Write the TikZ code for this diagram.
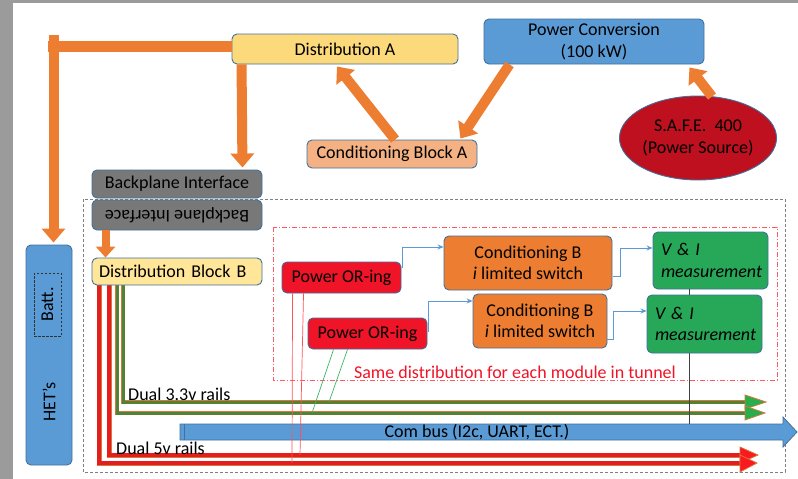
\documentclass[tikz,border=0pt]{standalone}
\usepackage{fontspec}
\setmainfont{Carlito}
\usetikzlibrary{arrows.meta,calc,shapes.geometric}
\definecolor{bgside}{RGB}{155,155,155}
\definecolor{bordc}{RGB}{65,113,156}
\definecolor{orangeA}{RGB}{237,125,49}
\definecolor{yellowA}{RGB}{252,217,123}
\definecolor{yellowB}{RGB}{255,230,153}
\definecolor{blueA}{RGB}{91,155,213}
\definecolor{salmonA}{RGB}{244,177,131}
\definecolor{safered}{RGB}{190,16,30}
\definecolor{grayBP}{RGB}{120,120,120}
\definecolor{orred}{RGB}{240,20,40}
\definecolor{vigreen}{RGB}{38,168,88}
\definecolor{railgreen}{RGB}{84,130,53}
\definecolor{railred}{RGB}{228,30,30}
\definecolor{railedge}{RGB}{214,120,60}
\definecolor{headgreen}{RGB}{40,175,75}
\definecolor{headred}{RGB}{250,25,30}
\definecolor{thinred}{RGB}{255,80,90}
\definecolor{thingreen}{RGB}{60,180,100}
\definecolor{dashred}{RGB}{255,90,100}
\begin{document}
\begin{tikzpicture}[x=1pt,y=-1pt,
  font=\fontsize{18}{21.5}\selectfont,
  box/.style={draw=bordc, line width=0.9pt, rounded corners=5pt, inner sep=0pt, align=center},
  oarrow/.style={draw=orangeA, line width=10pt, line cap=butt, -{Triangle[width=23pt,length=14pt]}},
  obar/.style={draw=orangeA, line width=11pt, line cap=butt},
  tconn/.style={draw=blueA, line width=0.8pt, -{Stealth[length=6pt,width=5pt]}},
  grail/.style={draw=railedge, line width=0.8pt, double=railgreen, double distance=3pt},
  rrail/.style={draw=railedge, line width=0.8pt, double=railred, double distance=3.4pt},
  ghead/.style={draw=railedge, line width=0.8pt, fill=headgreen, line join=miter},
  rhead/.style={draw=railedge, line width=0.8pt, fill=headred, line join=miter}]
\useasboundingbox (0,0) rectangle (798,479);
\fill[white] (0,0) rectangle (798,479);
\fill[bgside] (0,0) rectangle (13,479);
\fill[bgside] (0,0) rectangle (798,3);

% frames
\draw[gray, line width=0.7pt, dash pattern=on 3pt off 2pt] (83,199) rectangle (785,472);
\draw[dashred, line width=0.8pt, dash pattern=on 5pt off 2pt on 1pt off 2pt] (273,227) rectangle (777,380);

% upper nodes
\node[box, fill=yellowA, minimum width=226pt, minimum height=30pt] (distA) at (345,49) {Distribution A};
\node[box, fill=blueA, minimum width=220pt, minimum height=45pt] (pconv) at (594,41.5) {Power Conversion\\(100 kW)};
\node[box, fill=salmonA, minimum width=170pt, minimum height=28pt] (condA) at (392,154) {Conditioning Block A};
\node[ellipse, draw=bordc, line width=0.9pt, fill=safered, minimum width=146pt, minimum height=84pt, inner sep=0pt, align=center] (safe) at (698,138) {S.A.F.E.~~400\\(Power Source)};

\node[box, fill=grayBP, minimum width=170pt, minimum height=28pt] (bp1) at (177,184) {Backplane Interface};
\node[box, fill=grayBP, minimum width=170pt, minimum height=30pt] (bp2) at (177,215) {\rotatebox{180}{Backplane Interface}};

% HET's
\node[box, fill=blueA, minimum width=46pt, minimum height=220pt] (hets) at (49,355) {};
\node[rotate=90, inner sep=0pt] (hetstxt) at (49,402) {HET’s};
\node[draw=black!80, line width=0.7pt, dash pattern=on 2.5pt off 1.5pt, minimum width=27pt, minimum height=63pt, inner sep=0pt] (batt) at (47.5,304.5) {\rotatebox{90}{Batt.}};

% orange arrows
\coordinate (bendA) at (53.5,35);
\coordinate (hetsin) at ($(hets.north)+(4.5,-2)$);
\draw[obar] ($(distA.west)+(0,-3)$) -- (48,46);
\draw[oarrow] (bendA) -- (hetsin);
\draw[oarrow] ($(distA.south west)+(10,0)$) -- ($(bp1.north east)+(-20,-2)$);
\draw[oarrow] ($(pconv.south west)+(26,0)$) -- ($(condA.north east)+(-17,-1)$);
\draw[oarrow] ($(condA.north)+(3,0)$) -- ($(distA.south)+(-8,2)$);
\draw[oarrow] ($(safe.north)+(14,1)$) -- ($(pconv.south east)+(-15,3)$);

% rails (drawn before distB so it covers their start)
\coordinate (g1e) at (747,402);
\coordinate (g2e) at (747,413);
\coordinate (r1e) at (742,455);
\coordinate (r2e) at (742,463);
\draw[rrail] (99,283) |- (r2e);
\draw[rrail] (109,283) |- (r1e);
\draw[grail] (117,283) |- (g2e);
\draw[grail] (123,283) |- (g1e);
\draw[ghead] (745,395) -- (766,402) -- (745,409) -- cycle;
\draw[ghead] (745,406) -- (765,413) -- (745,420) -- cycle;
\draw[rhead] (740,447) -- (758,455) -- (740,463) -- cycle;
\draw[rhead] (740,455) -- (757,463) -- (740,472) -- cycle;

\node[box, fill=yellowB, minimum width=170pt, minimum height=27pt, text width=156pt, align=left] (distB) at (177,271.5) {Distribution Block B};
\draw[draw=orangeA, line width=8pt, line cap=butt, -{Triangle[width=19pt,length=11pt]}] ($(bp2.south west)+(14,0)$) -- ($(distB.north west)+(14,0)$);

\node[anchor=base west, inner sep=0pt] (lab33) at (128,400) {Dual 3.3v rails};
\node[anchor=base west, inner sep=0pt] (lab5) at (116,454) {Dual 5v rails};

% com bus
\coordinate (cbtop) at (689,424);
\draw[draw=bordc, line width=0.8pt, fill=blueA, line join=miter] (180,424) -- (783,424) -- (783,417) -- (797,432) -- (783,447) -- (783,440) -- (180,440) -- cycle;
\draw[bordc, line width=0.8pt] (184,424) -- (184,440);
\node[inner sep=0pt] (combus) at (477,432) {Com bus (I2c, UART, ECT.)};

% module nodes
\node[box, fill=orred, minimum width=119pt, minimum height=31pt] (or1) at (341.5,277.5) {Power OR-ing};
\node[box, fill=orred, minimum width=119pt, minimum height=31pt] (or2) at (367.5,333.5) {Power OR-ing};
\node[box, fill=orangeA, minimum width=168pt, minimum height=54pt] (cb1) at (528,263) {Conditioning B\\\textit{i} limited switch};
\node[box, fill=orangeA, minimum width=134pt, minimum height=54pt] (cb2) at (540,321) {Conditioning B\\\textit{i} limited switch};
\node[box, fill=vigreen, minimum width=115pt, minimum height=57pt, text width=99pt, align=left] (vi1) at (710.5,260.5) {\textit{V \& I}\\\textit{measurement}};
\draw[black!75, line width=0.8pt] ($(vi1.south)+(-21.5,0)$) -- (cbtop);
\node[box, fill=vigreen, minimum width=115pt, minimum height=58pt, text width=99pt, align=left] (vi2) at (704.5,324) {\textit{V \& I}\\\textit{measurement}};

% thin connectors
\draw[tconn] ($(or1.east)+(1,-9.5)$) |- ($(cb1.west)+(0,-16)$);
\draw[tconn] ($(or2.east)+(1,-1.5)$) |- ($(cb2.west)+(0,-20)$);
\draw[tconn] ($(cb1.east)+(1,13)$) -- (620,276) |- ($(vi1.west)+(0,-12.5)$);
\draw[tconn] ($(cb2.east)+(0,18)$) -- (613,339) |- ($(vi2.west)+(0,-13)$);

% thin red / green feeds
\draw[thinred, line width=0.7pt] ($(or1.south west)+(11,0)$) -- (292,463);
\draw[thinred, line width=0.7pt] ($(or1.south west)+(22,0)$) -- (300,455);
\draw[thingreen, line width=0.7pt] ($(or2.south west)+(26,0)$) -- (312,413);
\draw[thingreen, line width=0.7pt] ($(or2.south west)+(40,0)$) -- (329,402);

\node[text=orred, inner sep=0pt] (same) at (515,372) {Same distribution for each module in tunnel};
\end{tikzpicture}
\end{document}
